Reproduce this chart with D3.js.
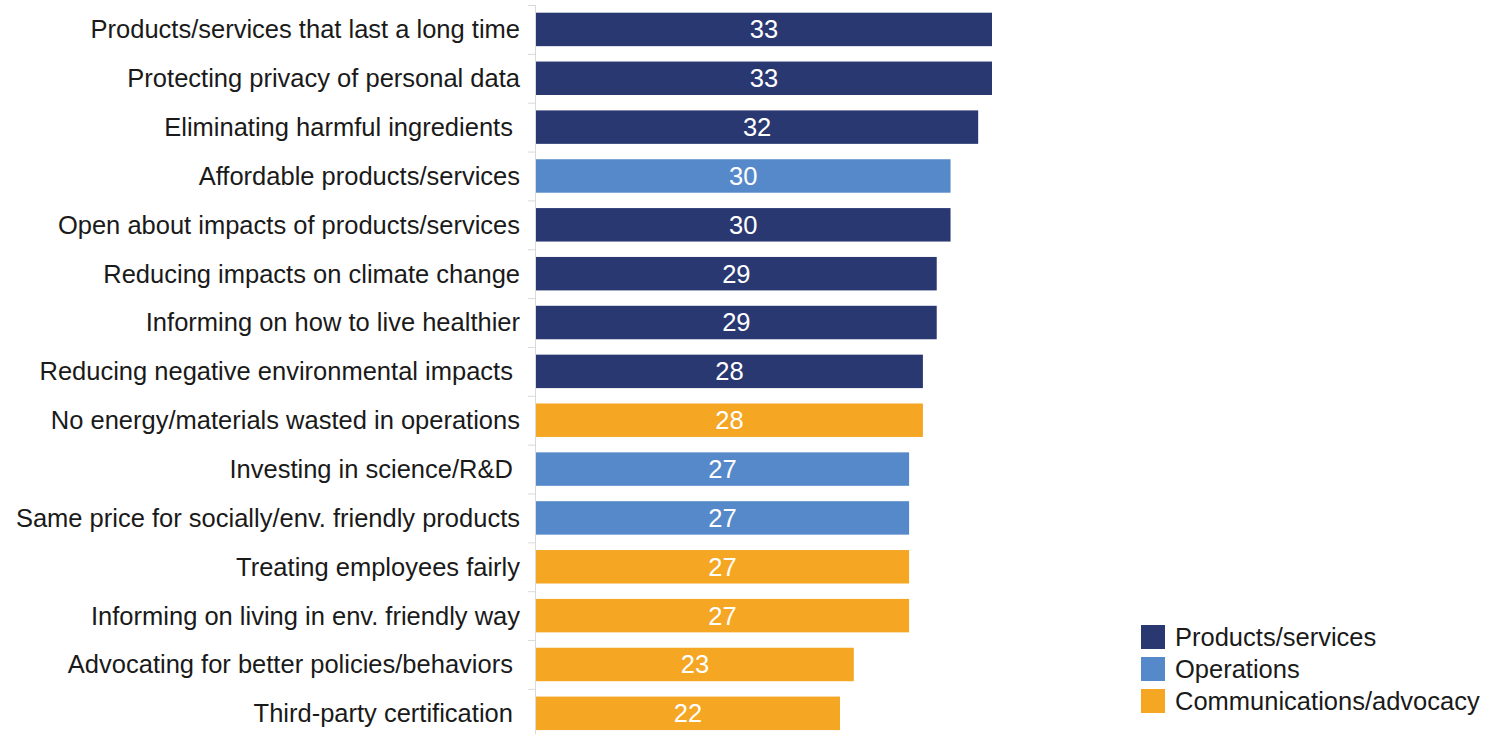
<!DOCTYPE html>
<html>
<head>
<meta charset="utf-8">
<script src="https://cdn.jsdelivr.net/npm/d3@7"></script>
<style>
  body { margin: 0; background: #fff; }
  svg { display: block; }
  text { font-family: "Liberation Sans", Arial, sans-serif; }
</style>
</head>
<body>
<div id="chart"></div>
<script>
const categories = [
  "Products/services that last a long time",
  "Protecting privacy of personal data",
  "Eliminating harmful ingredients ",
  "Affordable products/services",
  "Open about impacts of products/services",
  "Reducing impacts on climate change",
  "Informing on how to live healthier",
  "Reducing negative environmental impacts ",
  "No energy/materials wasted in operations",
  "Investing in science/R&D ",
  "Same price for socially/env. friendly products",
  "Treating employees fairly",
  "Informing on living in env. friendly way",
  "Advocating for better policies/behaviors ",
  "Third-party certification "
];
const values = [33, 33, 32, 30, 30, 29, 29, 28, 28, 27, 27, 27, 27, 23, 22];
const groups = ["Products/services", "Products/services", "Products/services", "Operations",
  "Products/services", "Products/services", "Products/services", "Products/services",
  "Communications/advocacy", "Operations", "Operations", "Communications/advocacy",
  "Communications/advocacy", "Communications/advocacy", "Communications/advocacy"];
const legendNames = ["Products/services", "Operations", "Communications/advocacy"];
const legendColors = ["#2a3872", "#5689c9", "#f5a623"];

const width = 1495, height = 734;
const svg = d3.select("#chart").append("svg")
  .attr("width", width)
  .attr("height", height);

const color = d3.scaleOrdinal().domain(legendNames).range(legendColors);

const x = d3.scaleLinear().domain([0, 33]).range([536, 992]);
const y = d3.scaleBand().domain(categories).range([5, 5 + 48.85 * 15]).paddingInner(0.315).paddingOuter(0.1575);

// axis line with tick marks between categories
const axisG = svg.append("g");
axisG.append("line")
  .attr("x1", 535.5).attr("x2", 535.5)
  .attr("y1", y.range()[0]).attr("y2", height)
  .attr("stroke", "#d9d9d9").attr("stroke-width", 1);
axisG.selectAll(".tick")
  .data(d3.range(categories.length + 1))
  .enter()
  .append("line")
  .attr("x1", 528).attr("x2", 536)
  .attr("y1", i => y.range()[0] + i * y.step() + 0.5)
  .attr("y2", i => y.range()[0] + i * y.step() + 0.5)
  .attr("stroke", "#d9d9d9");

// bars
svg.selectAll(".bar")
  .data(categories)
  .enter()
  .append("rect")
  .attr("class", "bar")
  .attr("x", x(0))
  .attr("y", d => y(d))
  .attr("width", (d, i) => x(values[i]) - x(0))
  .attr("height", y.bandwidth())
  .attr("fill", (d, i) => color(groups[i]));

// value labels
svg.selectAll(".val")
  .data(categories)
  .enter()
  .append("text")
  .attr("class", "val")
  .attr("x", (d, i) => (x(0) + x(values[i])) / 2)
  .attr("y", d => y(d) + y.bandwidth() / 2)
  .attr("dy", "0.35em")
  .attr("text-anchor", "middle")
  .attr("fill", "#fff")
  .attr("font-size", 25.5)
  .text((d, i) => values[i]);

// category labels
svg.selectAll(".cat")
  .data(categories)
  .enter()
  .append("text")
  .attr("class", "cat")
  .attr("x", 520)
  .attr("y", d => y(d) + y.bandwidth() / 2)
  .attr("dy", "0.35em")
  .attr("text-anchor", "end")
  .attr("fill", "#1a1a1a")
  .attr("font-size", 25.5)
  .style("white-space", "pre")
  .text(d => d);

// legend
const legend = svg.append("g").attr("transform", "translate(1141, 625)");
const items = legend.selectAll("g")
  .data(legendNames)
  .enter()
  .append("g")
  .attr("transform", (d, i) => `translate(0, ${i * 32})`);
items.append("rect")
  .attr("width", 24).attr("height", 24)
  .attr("fill", d => color(d));
items.append("text")
  .attr("x", 34).attr("y", 12)
  .attr("dy", "0.35em")
  .attr("font-size", 25.5)
  .attr("fill", "#1a1a1a")
  .text(d => d);
</script>
</body>
</html>
